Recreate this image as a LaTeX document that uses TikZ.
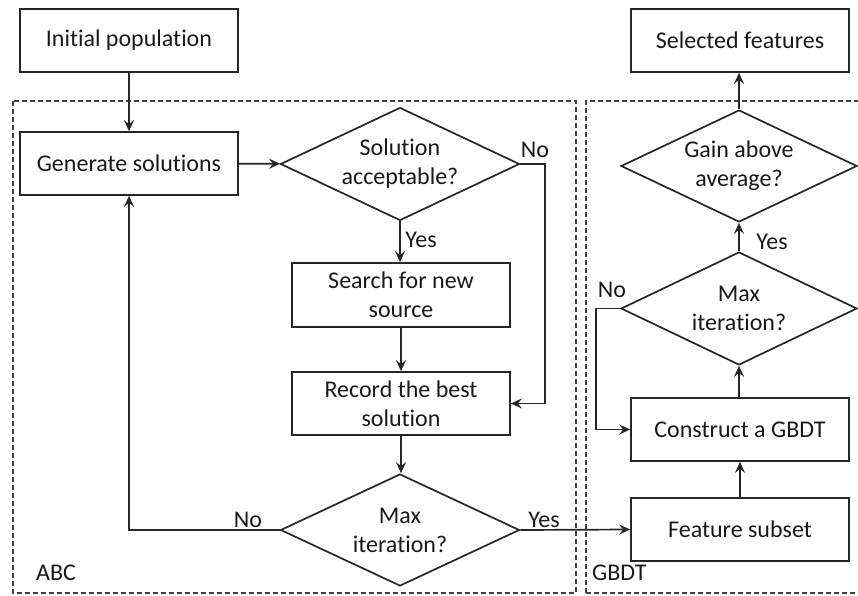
\documentclass[tikz,border=0pt]{standalone}
\usepackage{fontspec}
\setmainfont{Carlito}[Ligatures=NoCommon]
\usetikzlibrary{shapes.geometric,arrows.meta}
\begin{document}
\begin{tikzpicture}[x=1pt,y=-1pt,
  font=\fontsize{24}{29}\selectfont,
  every node/.style={text=black!90},
  procbox/.style={draw=black!85,line width=1.7pt,minimum width=218pt,minimum height=63pt,inner sep=0pt,align=center},
  decision/.style={draw=black!85,line width=1.7pt,shape=diamond,aspect=2.1,inner xsep=-20pt,inner ysep=-10pt,align=center},
  flow/.style={draw=black!85,line width=1.7pt,-{Stealth[length=11pt,width=10pt,inset=4pt]}},
  grp/.style={draw=black!75,line width=1.3pt,dash pattern=on 5pt off 3pt},
  lbl/.style={inner sep=0pt}]
\useasboundingbox (0,0) rectangle (858,596);
% group frames
\draw[grp] (13,101) rectangle (576,593);
\draw[grp] (586,593) -- (586,101) -- (862,101);
\draw[grp] (586,593) -- (862,593);
\node[lbl,anchor=west] (abc) at (36,573) {ABC};
\node[lbl,anchor=west] (gbdt) at (592,573) {GBDT};
% nodes
\node[procbox] (init) at (129,40.5) {Initial population};
\node[procbox] (gen) at (129,163.5) {Generate solutions};
\node[decision,minimum width=239pt,minimum height=113pt] (acc) at (400,164) {Solution\\acceptable?};
\node[procbox,minimum height=64pt] (search) at (401,295) {Search for new\\source};
\node[procbox] (record) at (401,403.5) {Record the best\\solution};
\node[decision,minimum width=239pt,minimum height=112pt] (maxa) at (400,530) {Max\\iteration?};
\node[procbox] (feat) at (740,529.5) {Feature subset};
\node[procbox] (cons) at (740,429.5) {Construct a GBDT};
\node[decision,minimum width=236pt,minimum height=113pt] (maxg) at (739,308.5) {Max\\iteration?};
\node[decision,minimum width=236pt,minimum height=112pt] (gain) at (739,166) {Gain above\\average?};
\node[procbox] (sel) at (740,40.5) {Selected features};
% helper coordinates
\coordinate (c1) at (545,164);
\coordinate (c2) at (545,403.5);
\coordinate (c3) at (129,530);
\coordinate (c4) at (596,308.5);
\coordinate (c5) at (596,429.5);
% connectors
\draw[flow] (init) -- (gen);
\draw[flow] (gen) -- (acc);
\draw[flow] (acc.south) -- (acc.south |- search.north);
\draw[flow] (acc.east) -- (c1) -- (c2) -- (record.east);
\draw[flow] (search) -- (record);
\draw[flow] (record.south) -- (record.south |- maxa.north);
\draw[flow] (maxa.west) -- (c3) -- (gen.south);
\draw[flow] (maxa.east) -- (feat.west);
\draw[flow] (feat) -- (cons);
\draw[flow] (cons.north) -- (cons.north -| maxg.south) -- (maxg.south);
\draw[flow] (maxg.west) -- (c4) -- (c5) -- (cons.west);
\draw[flow] (maxg.north) -- (gain.south);
\draw[flow] (gain.north) -- (gain.north |- sel.south);
% labels
\node[lbl] (lno1) at (535,150) {No};
\node[lbl] (lyes1) at (421,240) {Yes};
\node[lbl] (lno2) at (248,520) {No};
\node[lbl] (lyes2) at (544,520) {Yes};
\node[lbl] (lno3) at (612,290) {No};
\node[lbl] (lyes3) at (772,242) {Yes};
\end{tikzpicture}
\end{document}
